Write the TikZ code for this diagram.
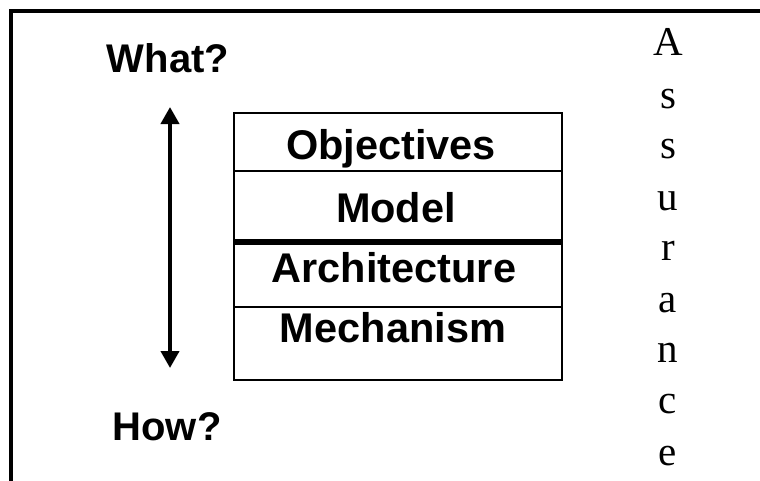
\documentclass[tikz,border=0pt]{standalone}
\usepackage{fontspec}
\setmainfont{Liberation Serif}
\setsansfont{Liberation Sans}
\usetikzlibrary{arrows.meta}
\tikzset{
  lbl/.style={font=\sffamily\bfseries\fontsize{40}{48}\selectfont, inner sep=0pt, anchor=base},
  boxlbl/.style={font=\sffamily\bfseries\fontsize{41.5}{50}\selectfont, inner sep=0pt, anchor=base},
  letter/.style={font=\rmfamily\fontsize{41}{49}\selectfont, inner sep=0pt, anchor=base},
  frameline/.style={line width=4.5pt},
  boxline/.style={line width=2pt},
  sepline/.style={line width=6pt},
  updown/.style={line width=4pt, {Triangle[width=18pt,length=17pt]}-{Triangle[width=18pt,length=17pt]}}
}
\begin{document}
\begin{tikzpicture}[x=1pt,y=-1pt]
\useasboundingbox (0,0) rectangle (760,480);
% outer frame (cut off at right and bottom)
\draw[frameline] (11,490) -- (11,11) -- (770,11);
% stack box
\draw[boxline] (234,113) rectangle (562,380);
\draw[boxline] (234,171) -- (562,171);
\draw[sepline] (234,241.5) -- (562,241.5);
\draw[boxline] (234,307) -- (562,307);
\node[boxlbl] (obj) at (391,159) {Objectives};
\node[boxlbl] (mod) at (396,222) {Model};
\node[boxlbl] (arc) at (394,282) {Architecture};
\node[boxlbl] (mec) at (393,342) {Mechanism};
% what / how
\node[lbl] (what) at (168,72) {What?};
\node[lbl] (how) at (167,440) {How?};
\coordinate (top) at (170,107);
\coordinate (bot) at (170,368);
\draw[updown] (top) -- (bot);
% Assurance
\node[letter] (l1) at (668,55) {A};
\node[letter] (l2) at (668,108) {s};
\node[letter] (l3) at (668,158) {s};
\node[letter] (l4) at (668,210) {u};
\node[letter] (l5) at (668,260) {r};
\node[letter] (l6) at (668,312) {a};
\node[letter] (l7) at (668,362) {n};
\node[letter] (l8) at (668,413) {c};
\node[letter] (l9) at (668,465) {e};
\end{tikzpicture}
\end{document}
